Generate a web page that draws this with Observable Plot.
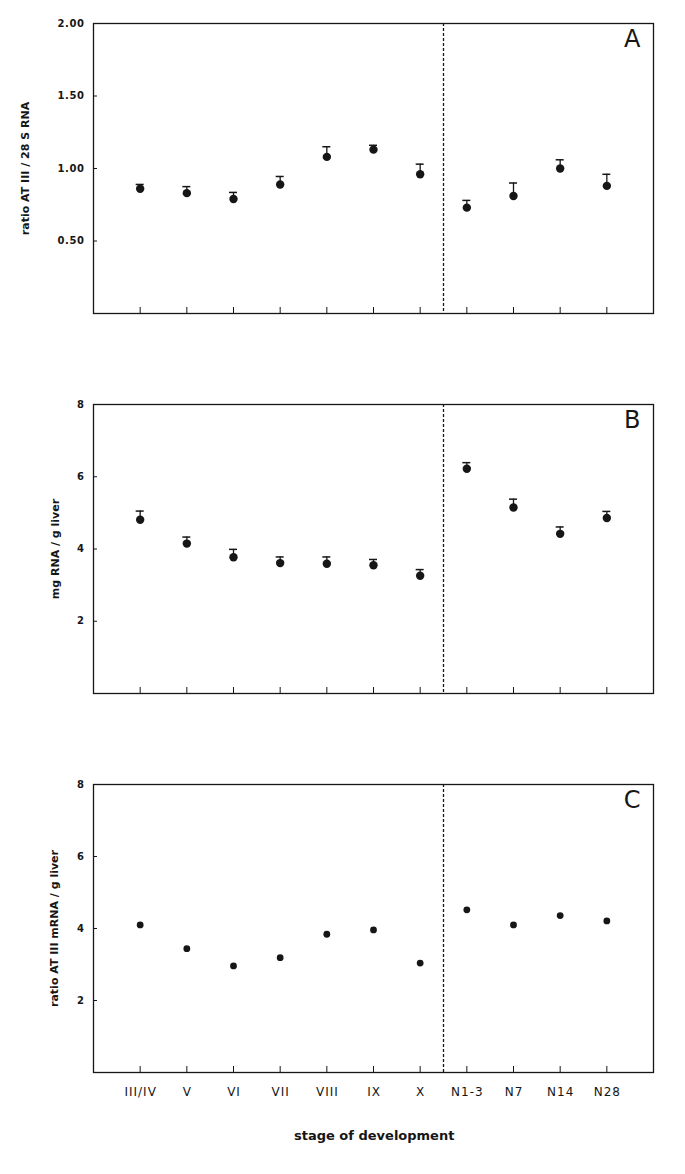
<!DOCTYPE html>
<html><head><meta charset="utf-8">
<script src="https://cdn.jsdelivr.net/npm/d3@7"></script>
<script src="https://cdn.jsdelivr.net/npm/@observablehq/plot@0.6"></script>
<style>
body{margin:0;background:#fff}
#chart svg{display:block}
#chart g[aria-label="y-axis tick label"] text{letter-spacing:0.6px}
#chart g[aria-label="x-axis tick label"] text{letter-spacing:1px}
#chart g[aria-label="y title"] text{letter-spacing:0.5px}
#chart g[aria-label="x title"] text{letter-spacing:1.4px}
</style>
</head><body><div id="chart"></div>
<script>
// ---- data ----
const stages = ["III/IV","V","VI","VII","VIII","IX","X","N1-3","N7","N14","N28"];
const ratioA      = [0.86,0.83,0.79,0.89,1.08,1.13,0.96,0.73,0.81,1.00,0.88];
const ratioAUpper = [0.89,0.875,0.835,0.945,1.15,1.16,1.03,0.78,0.90,1.06,0.96];
const rnaB        = [4.81,4.15,3.77,3.61,3.59,3.55,3.26,6.22,5.15,4.42,4.86];
const rnaBUpper   = [5.05,4.33,3.99,3.78,3.78,3.71,3.43,6.39,5.38,4.61,5.04];
const mrnaC       = [4.10,3.44,2.96,3.19,3.84,3.96,3.04,4.52,4.10,4.36,4.21];
const ticksA  = [0.5,1.0,1.5,2.0];
const ticksBC = [2,4,6,8];
const dividerAt = [6.5];
const yLabelA = "ratio AT III / 28 S RNA";
const yLabelB = "mg RNA / g liver";
const yLabelC = "ratio AT III mRNA / g liver";
const xTitle = "stage of development";

const ink = "#161616";
const font = "'DejaVu Sans', Verdana, sans-serif";

function panel({values, upper, yDomain, yTicks, yFormat, letter, yLabel, labelDx, r, height, marginTop, marginBottom, xAxis}) {
  const idx = stages.map((s, i) => i);
  const data = stages.map((s, i) => ({i, s, v: values[i], u: upper ? upper[i] : null}));
  const marks = [
    Plot.frame({stroke: ink, strokeWidth: 1.3}),
    Plot.ruleX(dividerAt, {stroke: ink, strokeWidth: 1.3, strokeDasharray: "3,2"}),
    Plot.ruleX(idx, {x: d => d, y1: yDomain[0], y2: yDomain[0], insetTop: -6, stroke: ink, strokeWidth: 1}),
    Plot.ruleY(yTicks, {y: d => d, x1: -1, x2: -1, insetRight: -4, stroke: ink, strokeWidth: 1}),
    Plot.axisY(yTicks, {tickSize: 0, tickPadding: 9, tickFormat: yFormat, fontSize: 10, fontWeight: "bold", fill: ink, label: null})
  ];
  if (upper) {
    marks.push(Plot.ruleX(data, {x: "i", y1: "v", y2: "u", stroke: ink, strokeWidth: 1.3}));
    marks.push(Plot.ruleY(data, {y: "u", x1: "i", x2: "i", insetLeft: -4, insetRight: -4, stroke: ink, strokeWidth: 1.5}));
  }
  marks.push(Plot.dot(data, {x: "i", y: "v", r, fill: ink, stroke: null}));
  marks.push(Plot.text([letter], {frameAnchor: "top-right", dx: -13, dy: 6, fontSize: 24, fill: ink}));
  marks.push(Plot.text([yLabel], {frameAnchor: "left", textAnchor: "middle", lineAnchor: "middle", rotate: -90, dx: labelDx, fontSize: 11, fontWeight: "bold", fill: ink, ariaLabel: "y title"}));
  if (xAxis) {
    marks.push(Plot.axisX(idx, {tickSize: 0, tickPadding: 15, dx: 0.5, tickFormat: i => stages[i], fontSize: 12, fill: ink, label: null}));
    marks.push(Plot.text([xTitle], {frameAnchor: "bottom", dy: 63, dx: 0.7, lineAnchor: "middle", fontSize: 13, fontWeight: "bold", fill: ink, ariaLabel: "x title"}));
  }
  return Plot.plot({
    width: 685,
    height,
    marginLeft: 93,
    marginRight: 32,
    marginTop,
    marginBottom,
    style: {fontFamily: font, background: "white", color: ink},
    x: {domain: [-1, 11], axis: null},
    y: {domain: yDomain, axis: null},
    marks
  });
}

const root = document.getElementById("chart");
root.appendChild(panel({values: ratioA, upper: ratioAUpper, yDomain: [0, 2], yTicks: ticksA, yFormat: d3.format(".2f"), letter: "A", yLabel: yLabelA, labelDx: -68, r: 4.2, height: 380, marginTop: 23, marginBottom: 67}));
root.appendChild(panel({values: rnaB, upper: rnaBUpper, yDomain: [0, 8], yTicks: ticksBC, yFormat: d3.format("d"), letter: "B", yLabel: yLabelB, labelDx: -38, r: 4.2, height: 380, marginTop: 24, marginBottom: 67}));
root.appendChild(panel({values: mrnaC, upper: null, yDomain: [0, 8], yTicks: ticksBC, yFormat: d3.format("d"), letter: "C", yLabel: yLabelC, labelDx: -39, r: 3.4, height: 414, marginTop: 24, marginBottom: 102, xAxis: true}));
</script>
</body></html>
